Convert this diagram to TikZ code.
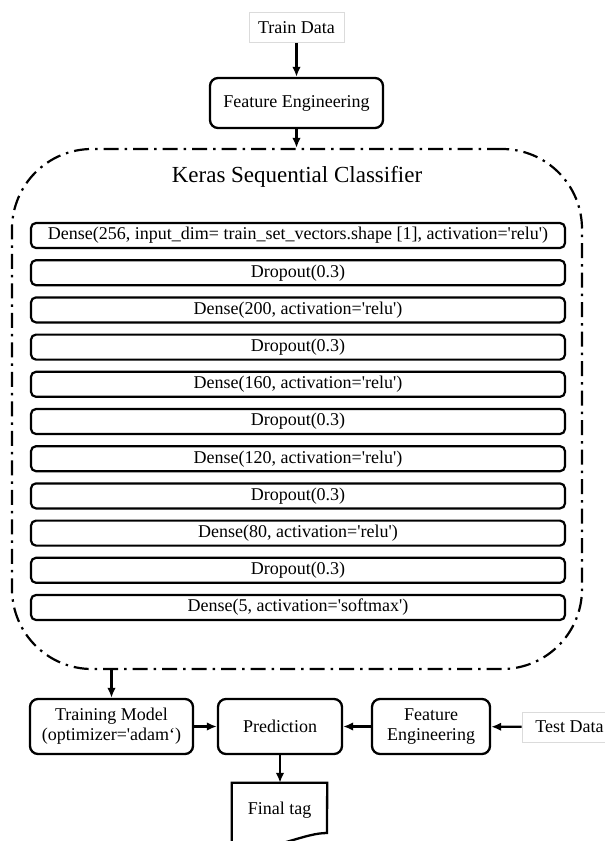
\documentclass[tikz,border=0pt]{standalone}
\usepackage{fontspec}
\setmainfont{Liberation Serif}[Ligatures=TeXOff]
\usetikzlibrary{arrows.meta}

\tikzset{
  txt/.style={font=\fontsize{18}{20}\selectfont},
  layer/.style={txt, draw, line width=2.2pt, rounded corners=5pt,
    minimum width=534pt, minimum height=25pt, inner sep=0pt},
  blk/.style={txt, draw, line width=2.3pt, rounded corners=8pt,
    align=center, inner sep=0pt},
  datbox/.style={txt, draw=black!14, line width=0.7pt,
    minimum width=95pt, minimum height=30pt, inner sep=0pt},
  arr/.style={-{Latex[length=10pt,width=8.5pt]}, line width=2.3pt},
  dashdot/.style={line width=2.2pt, dash pattern=on 15pt off 6pt on 2.5pt off 6pt}
}

\begin{document}
\begin{tikzpicture}[x=1pt,y=-1pt]
\useasboundingbox (0,0) rectangle (605,841);
\clip (0,0) rectangle (605,841);

% input and feature engineering
\node[datbox] (train) at (296.5,27.5) {Train Data};
\node[blk, minimum width=173pt, minimum height=50pt] (fe1) at (296.5,103) {Feature Engineering};

% classifier frame
\node[dashdot, draw, rounded corners=80pt, minimum width=570pt, minimum height=520pt,
      inner sep=0pt] (clf) at (297,409) {};
\node[font=\fontsize{23}{25}\selectfont] (title) at (297,177) {Keras Sequential Classifier};

% layer stack
\foreach \i/\t in {
  0/{Dense(256, input\_dim= train\_set\_vectors.shape [1], activation='relu')},
  1/{Dropout(0.3)},
  2/{Dense(200, activation='relu')},
  3/{Dropout(0.3)},
  4/{Dense(160, activation='relu')},
  5/{Dropout(0.3)},
  6/{Dense(120, activation='relu')},
  7/{Dropout(0.3)},
  8/{Dense(80, activation='relu')},
  9/{Dropout(0.3)},
  10/{Dense(5, activation='softmax')}}
  \node[layer] (l\i) at (298,{235.5+37.2*\i}) {\t};

% training and prediction row
\node[blk, minimum width=163pt, minimum height=55pt] (trm) at (111.5,726.5)
  {Training Model\\(optimizer='adam‘)};
\node[blk, minimum width=124pt, minimum height=55pt] (pred) at (280,726.5) {Prediction};
\node[blk, minimum width=118pt, minimum height=55pt] (fe2) at (431,726.5)
  {Feature\\Engineering};
\node[datbox] (test) at (569.5,727) {Test Data};

% output document
\node[txt, minimum width=95pt, minimum height=54pt, inner sep=0pt] (tag) at (279.5,810) {Final tag};
\draw[line width=2.3pt] (tag.west |- 0,860) -- (tag.north west) -- (tag.north east)
  -- (327,833) .. controls (305,833) and (280,848) .. (232,853);

% connectors
\draw[arr] (train) -- (fe1);
\draw[arr] (fe1.south) -- (fe1.south |- clf.north);
\draw[arr] (trm.north |- clf.south) -- (trm.north);
\draw[arr] (trm) -- (pred);
\draw[arr] (fe2) -- (pred);
\draw[arr] (test) -- (fe2);
\draw[arr] (pred.south) -- (pred.south |- tag.north);
\end{tikzpicture}
\end{document}
